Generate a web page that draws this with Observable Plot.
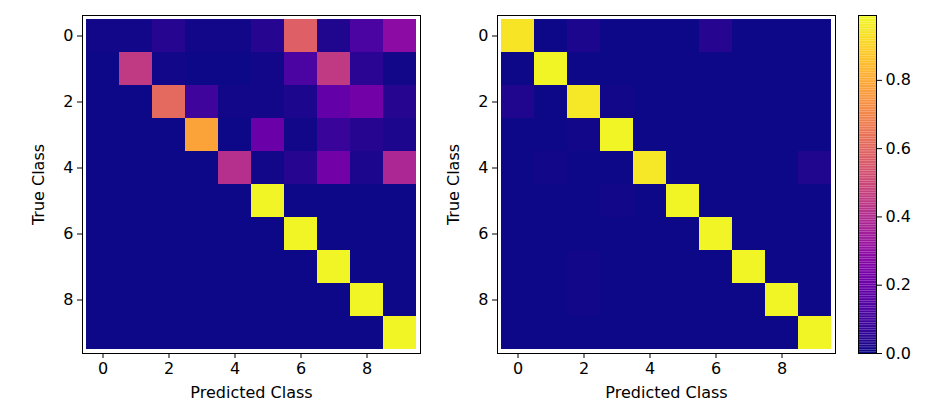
<!DOCTYPE html>
<html><head><meta charset="utf-8">
<script src="https://cdn.jsdelivr.net/npm/d3@7"></script>
<script src="https://cdn.jsdelivr.net/npm/@observablehq/plot@0.6"></script>
<style>body{margin:0;background:#fff;font-family:"DejaVu Sans",sans-serif}#wrap{position:relative;width:952px;height:402px}#wrap svg{position:absolute;top:0}</style>
</head><body><div id="wrap"></div>
<script>
const classes = [0,1,2,3,4,5,6,7,8,9];
const leftMatrix = [
  [0.01,0.01,0.04,0.01,0.01,0.04,0.58,0.03,0.12,0.29],
  [0.00,0.45,0.01,0.00,0.00,0.01,0.12,0.45,0.05,0.01],
  [0.00,0.00,0.61,0.09,0.01,0.01,0.02,0.18,0.22,0.04],
  [0.00,0.00,0.00,0.78,0.00,0.20,0.01,0.08,0.04,0.02],
  [0.00,0.00,0.00,0.00,0.41,0.01,0.04,0.22,0.02,0.38],
  [0.00,0.00,0.00,0.00,0.00,0.98,0.00,0.00,0.00,0.00],
  [0.00,0.00,0.00,0.00,0.00,0.00,0.98,0.00,0.00,0.00],
  [0.00,0.00,0.00,0.00,0.00,0.00,0.00,0.98,0.00,0.00],
  [0.00,0.00,0.00,0.00,0.00,0.00,0.00,0.00,0.98,0.00],
  [0.00,0.00,0.00,0.00,0.00,0.00,0.00,0.00,0.00,0.98]
];
const rightMatrix = [
  [0.94,0.00,0.02,0.00,0.00,0.00,0.04,0.00,0.00,0.00],
  [0.00,0.98,0.00,0.00,0.00,0.00,0.00,0.00,0.00,0.00],
  [0.03,0.00,0.95,0.01,0.00,0.00,0.00,0.00,0.00,0.00],
  [0.00,0.00,0.01,0.98,0.00,0.00,0.00,0.00,0.00,0.00],
  [0.00,0.01,0.00,0.00,0.95,0.00,0.00,0.00,0.00,0.03],
  [0.00,0.00,0.00,0.01,0.00,0.98,0.00,0.00,0.00,0.00],
  [0.00,0.00,0.00,0.00,0.00,0.00,0.98,0.00,0.00,0.00],
  [0.00,0.00,0.01,0.00,0.00,0.00,0.00,0.98,0.00,0.00],
  [0.00,0.00,0.01,0.00,0.00,0.00,0.00,0.00,0.98,0.00],
  [0.00,0.00,0.00,0.00,0.00,0.00,0.00,0.00,0.00,0.98]
];
const tickValues = [0,2,4,6,8];
const barTicks = [0,0.2,0.4,0.6,0.8];
const vmax = 0.99;

function heat(matrix, showY) {
  const cells = [];
  matrix.forEach((row,i) => row.forEach((v,j) => cells.push({t:i, p:j, v})));
  return Plot.plot({
    width: 440, height: 402,
    marginLeft: 82, marginRight: 20, marginTop: 15, marginBottom: 49,
    style: {fontSize: "16px", fontFamily: "DejaVu Sans, sans-serif", color: "#000"},
    x: {domain: classes, padding: 0, ticks: tickValues, tickSize: 5, label: "Predicted Class", labelAnchor: "center", labelOffset: 44, labelArrow: "none"},
    y: {domain: classes, padding: 0, ticks: tickValues, tickSize: 5, label: "True Class", labelAnchor: "center", labelOffset: 50, labelArrow: "none"},
    color: {type: "linear", scheme: "plasma", domain: [0, vmax], clamp: true},
    marks: [
      Plot.cell(cells, {x: "p", y: "t", fill: "v", inset: 0}),
      Plot.frame({stroke: "#000"})
    ]
  });
}

const wrap = d3.select("#wrap");
const a = heat(leftMatrix); a.style.left = "0px"; wrap.append(() => a);
const b = heat(rightMatrix); b.style.left = "415px"; wrap.append(() => b);

const steps = d3.range(0, 200).map(k => ({y1: k/200*vmax, y2: (k+1)/200*vmax}));
const bar = Plot.plot({
  width: 94, height: 402, marginLeft: 0, marginRight: 76, marginTop: 15, marginBottom: 49,
  style: {fontSize: "16px", fontFamily: "DejaVu Sans, sans-serif", color: "#000"},
  x: {axis: null, domain: [0,1]},
  y: {domain: [0, vmax], axis: "right", ticks: barTicks, tickFormat: d3.format(".1f"), tickSize: 5, label: null},
  color: {type: "linear", scheme: "plasma", domain: [0, vmax]},
  marks: [
    Plot.rect(steps, {x1: 0, x2: 1, y1: "y1", y2: "y2", fill: d => (d.y1 + d.y2) / 2}),
    Plot.frame({stroke: "#000"})
  ]
});
bar.style.left = "858px";
wrap.append(() => bar);
</script></body></html>
